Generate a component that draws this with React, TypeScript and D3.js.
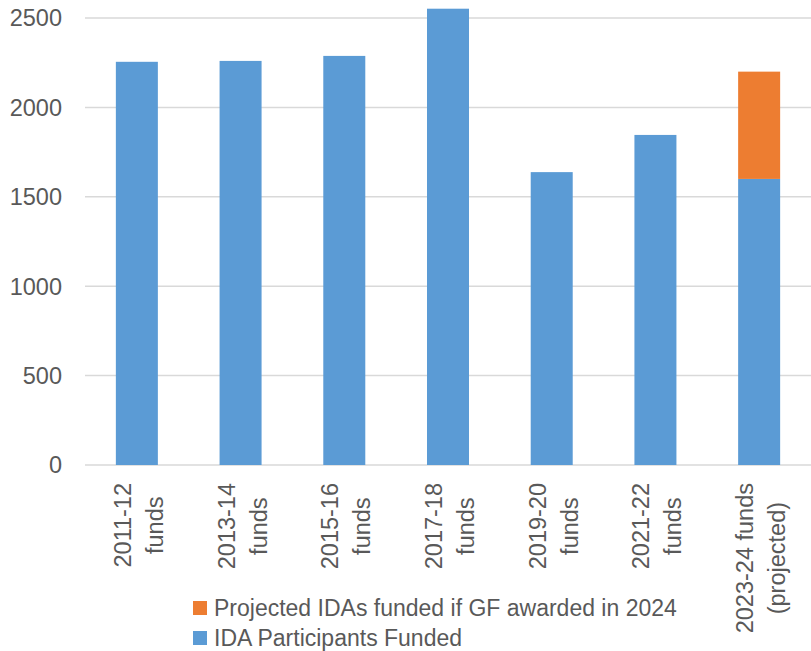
import React, { useEffect, useRef } from "react";
import * as d3 from "d3";

const categories: string[][] = [
  ["2011-12", "funds"],
  ["2013-14", "funds"],
  ["2015-16", "funds"],
  ["2017-18", "funds"],
  ["2019-20", "funds"],
  ["2021-22", "funds"],
  ["2023-24 funds", "(projected)"],
];
const idaFunded: number[] = [2255, 2260, 2288, 2552, 1638, 1846, 1600];
const projected: number[] = [0, 0, 0, 0, 0, 0, 600];
const yTicks: number[] = [0, 500, 1000, 1500, 2000, 2500];
const legendItems = [
  { label: "Projected IDAs funded if GF awarded in 2024", color: "#ED7D31" },
  { label: "IDA Participants Funded", color: "#5B9BD5" },
];

const W = 811;
const H = 651;
const FONT = "'Liberation Sans', Arial, sans-serif";

export default function App() {
  const ref = useRef<SVGSVGElement | null>(null);

  useEffect(() => {
    const svg = d3.select(ref.current);
    svg.selectAll("*").remove();

    const x = d3
      .scaleBand<number>()
      .domain(d3.range(categories.length))
      .range([85, 811])
      .paddingInner(0.595)
      .paddingOuter(0.2975);
    const y = d3.scaleLinear().domain([0, 2500]).range([465, 18]);

    // gridlines
    svg
      .append("g")
      .selectAll("line")
      .data(yTicks)
      .join("line")
      .attr("x1", 85)
      .attr("x2", 811)
      .attr("y1", (d) => y(d))
      .attr("y2", (d) => y(d))
      .attr("stroke", "#d9d9d9")
      .attr("stroke-width", 1.5);

    // y tick labels
    svg
      .append("g")
      .selectAll("text")
      .data(yTicks)
      .join("text")
      .attr("x", 62)
      .attr("y", (d) => y(d))
      .attr("dy", "0.36em")
      .attr("text-anchor", "end")
      .attr("font-family", FONT)
      .attr("font-size", 23.5)
      .attr("fill", "#595959")
      .text((d) => String(d));

    // bars
    const bars = svg.append("g");
    bars
      .selectAll("rect.ida")
      .data(idaFunded)
      .join("rect")
      .attr("class", "ida")
      .attr("x", (_, i) => x(i)!)
      .attr("width", x.bandwidth())
      .attr("y", (d) => y(d))
      .attr("height", (d) => y(0) - y(d))
      .attr("fill", "#5B9BD5");
    bars
      .selectAll("rect.proj")
      .data(projected)
      .join("rect")
      .attr("class", "proj")
      .attr("x", (_, i) => x(i)!)
      .attr("width", x.bandwidth())
      .attr("y", (d, i) => y(d + idaFunded[i]))
      .attr("height", (d, i) => y(idaFunded[i]) - y(d + idaFunded[i]))
      .attr("fill", "#ED7D31");

    // x labels
    const xl = svg.append("g");
    categories.forEach((lines, i) => {
      const cx = x(i)! + x.bandwidth() / 2;
      const g = xl.append("g").attr("transform", `translate(${cx},483) rotate(-90)`);
      const texts = lines.map((ln, k) =>
        g
          .append("text")
          .attr("y", k === 0 ? -6 : 26)
          .attr("font-family", FONT)
          .attr("font-size", 23.5)
          .attr("fill", "#595959")
          .attr("text-anchor", "middle")
          .text(ln)
      );
      const maxL = d3.max(texts, (t) => (t.node() as SVGTextElement).getComputedTextLength()) || 0;
      texts.forEach((t) => t.attr("x", -maxL / 2));
    });

    // legend
    const lg = svg.append("g");
    legendItems.forEach((it, i) => {
      const yy = 608 + i * 30;
      lg.append("rect")
        .attr("x", 193)
        .attr("y", yy - 7)
        .attr("width", 14)
        .attr("height", 14)
        .attr("fill", it.color);
      lg.append("text")
        .attr("x", 214)
        .attr("y", yy)
        .attr("dy", "0.36em")
        .attr("font-family", FONT)
        .attr("font-size", 23)
        .attr("fill", "#595959")
        .text(it.label);
    });
  }, []);

  return (
    <svg
      ref={ref}
      width={W}
      height={H}
      style={{ position: "absolute", left: 0, top: 0, background: "#fff" }}
    />
  );
}
